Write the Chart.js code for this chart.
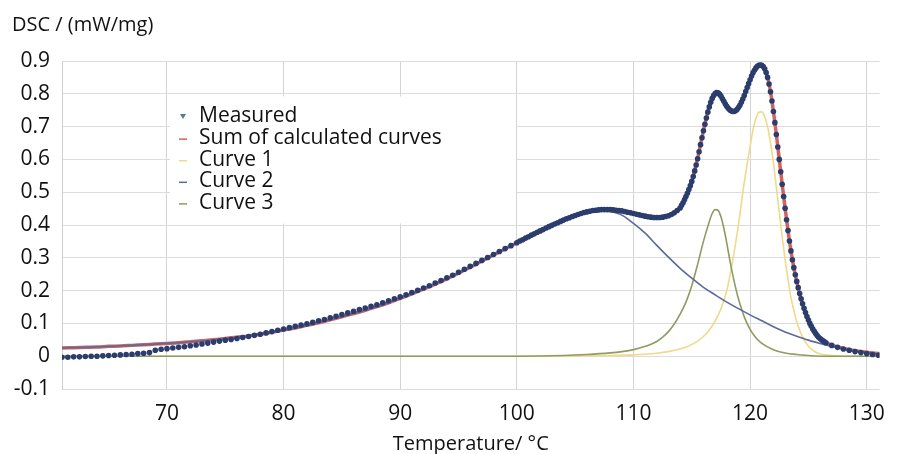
<!DOCTYPE html>
<html>
<head>
<meta charset="utf-8">
<title>DSC peak separation</title>
<script src="https://cdn.jsdelivr.net/npm/chart.js@4.4.1/dist/chart.umd.min.js"></script>
<style>
  html, body { margin: 0; padding: 0; background: #fff; }
</style>
</head>
<body>
<canvas id="dscChart" width="897" height="454"></canvas>
<script>
// tick labels
const xTicks = [70, 80, 90, 100, 110, 120, 130];
const yTicks = [-0.1, 0, 0.1, 0.2, 0.3, 0.4, 0.5, 0.6, 0.7, 0.8, 0.9];

// measured points
const measuredTemp = [
  61, 61.5, 62, 62.5, 63, 63.5, 64, 64.5,
  65, 65.5, 66, 66.5, 67, 67.5, 68, 68.5,
  69, 69.5, 70, 70.5, 71, 71.5, 72, 72.5,
  73, 73.5, 74, 74.5, 75, 75.5, 76, 76.5,
  77, 77.5, 78, 78.5, 79, 79.5, 80, 80.5,
  81, 81.5, 82, 82.5, 83, 83.5, 84, 84.5,
  85, 85.5, 86, 86.5, 87, 87.5, 88, 88.5,
  89, 89.5, 90, 90.5, 91, 91.5, 92, 92.5,
  93, 93.5, 94, 94.5, 95, 95.5, 96, 96.5,
  97, 97.5, 98, 98.5, 99, 99.5,
  100, 100.25, 100.5, 100.75, 101, 101.25, 101.5, 101.75,
  102, 102.25, 102.5, 102.75, 103, 103.25, 103.5, 103.75,
  104, 104.25, 104.5, 104.75, 105, 105.25, 105.5, 105.75,
  106, 106.25, 106.5, 106.75, 107, 107.25, 107.5, 107.75,
  108, 108.25, 108.5, 108.75, 109, 109.25, 109.5, 109.75,
  110, 110.25, 110.5, 110.75, 111, 111.25, 111.5, 111.75,
  112, 112.25, 112.5, 112.75, 113, 113.25, 113.5, 113.75,
  114,
  114.125, 114.25, 114.375, 114.5, 114.625, 114.75, 114.875, 115,
  115.125, 115.25, 115.375, 115.5, 115.625, 115.75, 115.875, 116,
  116.125, 116.25, 116.375, 116.5, 116.625, 116.75, 116.875, 117,
  117.125, 117.25, 117.375, 117.5, 117.625, 117.75, 117.875, 118,
  118.125, 118.25, 118.375, 118.5, 118.625, 118.75, 118.875, 119,
  119.125, 119.25, 119.375, 119.5, 119.625, 119.75, 119.875, 120,
  120.125, 120.25, 120.375, 120.5, 120.625, 120.75, 120.875, 121,
  121.125, 121.25, 121.375, 121.5, 121.625, 121.75, 121.875, 122,
  122.125, 122.25, 122.375, 122.5, 122.625, 122.75, 122.875, 123,
  123.125, 123.25, 123.375, 123.5, 123.625, 123.75, 123.875, 124,
  124.125, 124.25, 124.375, 124.5, 124.625, 124.75, 124.875, 125,
  125.125, 125.25, 125.375, 125.5, 125.625, 125.75, 125.875, 126,
  126.125, 126.25, 126.375, 126.5,
  127, 127.5, 128, 128.5, 129, 129.5, 130, 130.5, 131
];
const measuredDsc = [
  -0.003, -0.003, -0.002, -0.002, -0.001, 0, 0, 0.001,
  0.002, 0.003, 0.004, 0.005, 0.006, 0.008, 0.009, 0.011,
  0.018, 0.021, 0.023, 0.025, 0.027, 0.029, 0.032, 0.034,
  0.037, 0.04, 0.043, 0.046, 0.049, 0.051, 0.054, 0.057,
  0.06, 0.064, 0.067, 0.071, 0.075, 0.079, 0.083, 0.087,
  0.091, 0.095, 0.099, 0.103, 0.108, 0.112, 0.117, 0.122,
  0.127, 0.132, 0.137, 0.142, 0.147, 0.152, 0.157, 0.163,
  0.169, 0.175, 0.181, 0.187, 0.194, 0.201, 0.208, 0.215,
  0.223, 0.231, 0.239, 0.247, 0.256, 0.265, 0.274, 0.283,
  0.292, 0.301, 0.31, 0.319, 0.328, 0.337,
  0.346, 0.351, 0.355, 0.36, 0.364, 0.369, 0.373, 0.378,
  0.382, 0.386, 0.391, 0.395, 0.399, 0.403, 0.407, 0.411,
  0.415, 0.419, 0.422, 0.426, 0.429, 0.432, 0.435, 0.438,
  0.44, 0.442, 0.444, 0.445, 0.446, 0.447, 0.447, 0.447,
  0.447, 0.446, 0.445, 0.444, 0.443, 0.441, 0.439, 0.437,
  0.435, 0.433, 0.431, 0.429, 0.427, 0.425, 0.424, 0.423,
  0.423, 0.423, 0.424, 0.426, 0.428, 0.432, 0.437, 0.444,
  0.452,
  0.46, 0.468, 0.477, 0.487, 0.497, 0.508, 0.52, 0.533,
  0.548, 0.565, 0.583, 0.602, 0.623, 0.645, 0.666, 0.687,
  0.707, 0.726, 0.744, 0.76, 0.774, 0.786, 0.795, 0.801,
  0.804, 0.803, 0.799, 0.793, 0.785, 0.777, 0.769, 0.762,
  0.756, 0.751, 0.748, 0.746, 0.746, 0.748, 0.752, 0.758,
  0.765, 0.774, 0.784, 0.795, 0.807, 0.819, 0.831, 0.843,
  0.854, 0.864, 0.872, 0.879, 0.884, 0.887, 0.888, 0.887,
  0.883, 0.876, 0.865, 0.85, 0.83, 0.806, 0.778, 0.746,
  0.712, 0.676, 0.638, 0.6, 0.562, 0.524, 0.487, 0.451,
  0.416, 0.383, 0.351, 0.321, 0.294, 0.27, 0.248, 0.228,
  0.209, 0.191, 0.175, 0.16, 0.146, 0.133, 0.121, 0.11,
  0.1, 0.091, 0.083, 0.076, 0.069, 0.063, 0.058, 0.054,
  0.05, 0.047, 0.044, 0.041,
  0.033, 0.027, 0.022, 0.018, 0.014, 0.011, 0.008, 0.005, 0.003
];

// sum of calculated curves
const sumTemp = [
  61, 62, 63, 64, 65, 66, 67, 68, 69, 70,
  71, 72, 73, 74, 75, 76, 77, 78, 79, 80,
  81, 82, 83, 84, 85, 86, 87, 88, 89, 90,
  91, 92, 93, 94, 95, 96, 97, 98, 99, 100,
  101, 102, 103, 104, 105, 106, 107, 108, 109, 110,
  111, 112,
  112.25, 112.5, 112.75, 113, 113.25, 113.5, 113.75, 114,
  114.25, 114.5, 114.75, 115, 115.25, 115.5, 115.75, 116,
  116.25, 116.5, 116.75, 117, 117.25, 117.5, 117.75, 118,
  118.25, 118.5, 118.75, 119, 119.25, 119.5, 119.75, 120,
  120.25, 120.5, 120.75, 121, 121.25, 121.5, 121.75, 122,
  122.25, 122.5, 122.75, 123, 123.25, 123.5, 123.75, 124,
  124.25, 124.5, 124.75, 125, 125.25, 125.5, 125.75, 126,
  126.5, 127, 128, 129, 130, 131.1
];
const sumDsc = [
  0.025, 0.026, 0.027, 0.028, 0.03, 0.031, 0.033, 0.035, 0.037, 0.039,
  0.041, 0.044, 0.047, 0.05, 0.054, 0.058, 0.062, 0.067, 0.073, 0.08,
  0.086, 0.094, 0.102, 0.111, 0.12, 0.13, 0.14, 0.151, 0.163, 0.176,
  0.19, 0.205, 0.22, 0.236, 0.253, 0.271, 0.29, 0.309, 0.327, 0.346,
  0.364, 0.382, 0.399, 0.415, 0.429, 0.44, 0.447, 0.448, 0.444, 0.436,
  0.428, 0.424,
  0.424, 0.425, 0.427, 0.43, 0.434, 0.439, 0.446, 0.454,
  0.469, 0.488, 0.509, 0.534, 0.566, 0.603, 0.646, 0.688,
  0.727, 0.761, 0.787, 0.802, 0.804, 0.794, 0.778, 0.763,
  0.752, 0.747, 0.749, 0.759, 0.775, 0.796, 0.82, 0.844,
  0.865, 0.88, 0.888, 0.888, 0.877, 0.851, 0.807, 0.747,
  0.677, 0.601, 0.525, 0.452, 0.384, 0.322, 0.27, 0.228,
  0.191, 0.16, 0.133, 0.11, 0.091, 0.076, 0.063, 0.054,
  0.042, 0.034, 0.024, 0.017, 0.012, 0.008
];

// curve 1 (high temperature peak)
const curve1Temp = [
  61, 100, 105, 108, 110, 111, 112, 113, 114, 114.5,
  115, 115.5, 116, 116.5, 117, 117.5, 118, 118.5, 119, 119.5,
  120, 120.25, 120.5, 120.75, 121, 121.25, 121.5, 121.75, 122, 122.25,
  122.5, 122.75, 123, 123.25, 123.5, 123.75, 124, 124.5, 125, 125.5,
  126, 127, 128, 131.1
];
const curve1Dsc = [
  0, 0, 0.001, 0.002, 0.004, 0.006, 0.009, 0.014, 0.022, 0.028,
  0.036, 0.046, 0.06, 0.08, 0.107, 0.145, 0.2, 0.29, 0.4, 0.53,
  0.64, 0.69, 0.725, 0.744, 0.745, 0.73, 0.7, 0.65, 0.59, 0.515,
  0.44, 0.365, 0.295, 0.235, 0.18, 0.14, 0.105, 0.058, 0.03, 0.015,
  0.007, 0.002, 0, 0
];

// curve 2 (broad peak)
const curve2Temp = [
  61, 63, 65, 67, 70, 72, 74, 76, 78, 80,
  82, 84, 86, 88, 90, 92, 94, 96, 98, 100,
  102, 104, 105, 106, 107, 107.5, 108, 109, 110, 111,
  112, 113, 114, 115, 116, 117, 118, 119, 120, 121,
  122, 123, 124, 125, 126, 127, 128, 129, 130, 131.1
];
const curve2Dsc = [
  0.025, 0.027, 0.03, 0.033, 0.039, 0.044, 0.05, 0.058, 0.067, 0.079,
  0.094, 0.111, 0.13, 0.151, 0.176, 0.205, 0.236, 0.271, 0.309, 0.346,
  0.382, 0.414, 0.427, 0.437, 0.442, 0.443, 0.441, 0.43, 0.405, 0.375,
  0.338, 0.302, 0.268, 0.238, 0.21, 0.187, 0.165, 0.145, 0.126, 0.108,
  0.09, 0.074, 0.061, 0.049, 0.039, 0.03, 0.022, 0.016, 0.011, 0.006
];

// curve 3 (middle peak)
const curve3Temp = [
  61, 100, 104, 106, 108, 109, 110, 111, 112, 112.5,
  113, 113.5, 114, 114.5, 115, 115.5, 116, 116.5, 116.75, 117,
  117.25, 117.5, 117.75, 118, 118.25, 118.5, 118.75, 119, 119.5, 120,
  120.5, 121, 122, 123, 124, 125, 126, 131.1
];
const curve3Dsc = [
  0, 0, 0.002, 0.005, 0.01, 0.014, 0.02, 0.03, 0.045, 0.058,
  0.075, 0.098, 0.128, 0.165, 0.215, 0.28, 0.35, 0.41, 0.435, 0.447,
  0.445, 0.425, 0.39, 0.345, 0.295, 0.25, 0.21, 0.175, 0.12, 0.082,
  0.056, 0.039, 0.02, 0.01, 0.005, 0.002, 0, 0
];

function toPoints(xs, ys) {
  return xs.map((x, i) => ({ x: x, y: ys[i] }));
}

// legend drawn as a white box inside the plot
const legendBox = {
  id: 'legendBox',
  beforeDatasetsDraw(chart) {
    const ctx = chart.ctx;
    const area = chart.chartArea;
    ctx.save();
    ctx.fillStyle = '#ffffff';
    ctx.fillRect(area.left + 108, area.top + 35.5, 346, 127);
    ctx.font = '21px "Open Sans"';
    ctx.textBaseline = 'middle';
    chart.data.datasets.forEach(function(ds, i) {
      const y = area.top + 55.5 + i * 21.6;
      const mx = area.left + 121;
      if (ds.showLine === false) {
        ctx.fillStyle = '#4d7f8f';
        ctx.beginPath();
        ctx.moveTo(mx - 3, y - 2.5);
        ctx.lineTo(mx + 3, y - 2.5);
        ctx.lineTo(mx, y + 2.5);
        ctx.closePath();
        ctx.fill();
      } else {
        ctx.strokeStyle = ds.borderColor;
        ctx.lineWidth = 1.5;
        ctx.beginPath();
        ctx.moveTo(mx - 4, y + 1);
        ctx.lineTo(mx + 4, y + 1);
        ctx.stroke();
      }
      ctx.fillStyle = '#111111';
      ctx.fillText(ds.label, area.left + 137, y);
    });
    ctx.restore();
  }
};

Chart.defaults.font.family = '"Open Sans", sans-serif';
Chart.defaults.color = '#111111';

const ctx = document.getElementById('dscChart').getContext('2d');
const chart = new Chart(ctx, {
  type: 'scatter',
  data: {
    datasets: [
      {
        label: 'Measured',
        data: toPoints(measuredTemp, measuredDsc),
        showLine: false,
        pointRadius: 2.8,
        pointBorderWidth: 0,
        backgroundColor: '#2b3d6d',
        order: 0
      },
      {
        label: 'Sum of calculated curves',
        data: toPoints(sumTemp, sumDsc),
        showLine: true,
        pointRadius: 0,
        borderWidth: 3.5,
        borderColor: '#d4625c',
        cubicInterpolationMode: 'monotone',
        order: 4
      },
      {
        label: 'Curve 1',
        data: toPoints(curve1Temp, curve1Dsc),
        showLine: true,
        pointRadius: 0,
        borderWidth: 1.6,
        borderColor: '#efd98a',
        cubicInterpolationMode: 'monotone',
        order: 3
      },
      {
        label: 'Curve 2',
        data: toPoints(curve2Temp, curve2Dsc),
        showLine: true,
        pointRadius: 0,
        borderWidth: 1.6,
        borderColor: '#5c6a9c',
        cubicInterpolationMode: 'monotone',
        order: 1
      },
      {
        label: 'Curve 3',
        data: toPoints(curve3Temp, curve3Dsc),
        showLine: true,
        pointRadius: 0,
        borderWidth: 1.6,
        borderColor: '#8f9b60',
        cubicInterpolationMode: 'monotone',
        order: 2
      }
    ]
  },
  options: {
    responsive: false,
    animation: false,
    layout: { padding: { left: 12, right: 17, top: 0, bottom: 0 } },
    plugins: {
      legend: { display: false },
      tooltip: { enabled: false },
      title: {
        display: true,
        text: 'DSC / (mW/mg)',
        align: 'start',
        color: '#111111',
        font: { size: 20, weight: 'normal' },
        padding: { top: 13, bottom: 24 }
      }
    },
    scales: {
      x: {
        type: 'linear',
        min: 61,
        max: 131.1,
        afterBuildTicks: function(scale) {
          scale.ticks = xTicks.map(v => ({ value: v }));
        },
        afterFit: function(scale) { scale.height = 65; },
        ticks: { padding: 12, font: { size: 21 }, callback: v => String(v) },
        grid: { color: '#d4d4d4', drawTicks: false },
        border: { display: false },
        title: {
          display: true,
          text: 'Temperature/ °C',
          font: { size: 20 },
          padding: { top: 0, bottom: -2 }
        }
      },
      y: {
        min: -0.1,
        max: 0.9,
        afterBuildTicks: function(scale) {
          scale.ticks = yTicks.map(v => ({ value: v }));
        },
        afterFit: function(scale) { scale.width = 50; },
        ticks: { padding: 12, font: { size: 21 }, callback: v => String(v) },
        grid: { color: '#dcdcdc', drawTicks: false },
        border: { color: '#d0d0d0' }
      }
    }
  },
  plugins: [legendBox]
});
</script>
</body>
</html>
